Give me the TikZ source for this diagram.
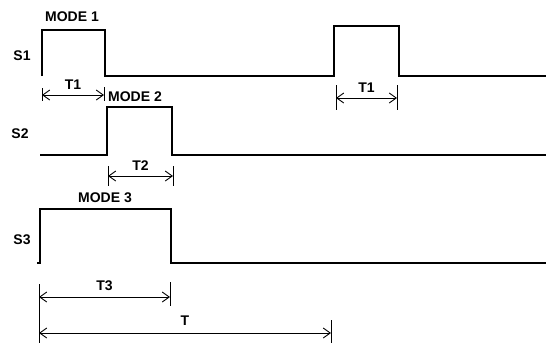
\documentclass[tikz,border=0pt]{standalone}
\usepackage{fontspec}
\setmainfont{Liberation Sans}
\usetikzlibrary{arrows.meta}
\begin{document}
\begin{tikzpicture}[x=1pt,y=-1pt,
  wave/.style={line width=1.3pt},
  tick/.style={line width=0.9pt},
  dim/.style={line width=0.9pt,{Straight Barb[length=7pt,width=10pt]}-{Straight Barb[length=7pt,width=10pt]}},
  lbl/.style={font=\fontsize{14}{16}\selectfont\bfseries,inner sep=0pt}]
\useasboundingbox[fill=white] (0,0) rectangle (546,346);
% labels
\node[lbl] (s1) at (22,56) {S1};
\node[lbl] (s2) at (20,134) {S2};
\node[lbl] (s3) at (22,240) {S3};
\node[lbl] (m1) at (72,17) {MODE 1};
\node[lbl] (m2) at (135,97) {MODE 2};
\node[lbl] (m3) at (105,198) {MODE 3};
% waveforms
\draw[wave] (42,76) -- (42,30) -- (105,30) -- (105,76) -- (334,76) -- (334,26) -- (399,26) -- (399,76) -- (546,76);
\draw[wave] (40,155) -- (107,155) -- (107,107) -- (172,107) -- (172,155) -- (546,155);
\draw[wave] (37,263) -- (40,263) -- (40,209) -- (171,209) -- (171,263) -- (546,263);
% T1 (first)
\coordinate (a1) at (42,95); \coordinate (b1) at (104,95);
\draw[tick] (42,88) -- (42,101);
\draw[tick] (104,87) -- (104,101);
\draw[dim] (a1) -- node[lbl,above=5pt] (t1) {T1} (b1);
% T1 (second)
\coordinate (a2) at (336,98); \coordinate (b2) at (397,98);
\draw[tick] (336,85) -- (336,110);
\draw[tick] (397,85) -- (397,110);
\draw[dim] (a2) -- node[lbl,above=5pt] (t1b) {T1} (b2);
% T2
\coordinate (a3) at (108,176); \coordinate (b3) at (173,176);
\draw[tick] (108,166) -- (108,186);
\draw[tick] (173,166) -- (173,186);
\draw[dim] (a3) -- node[lbl,above=5pt] (t2) {T2} (b3);
% T3
\coordinate (a4) at (39,297); \coordinate (b4) at (170,297);
\draw[tick] (39,284) -- (39,343);
\draw[tick] (170,282) -- (170,306);
\draw[dim] (a4) -- node[lbl,above=6pt] (t3) {T3} (b4);
% T
\coordinate (a5) at (39,333); \coordinate (b5) at (331,333);
\draw[tick] (331,320) -- (331,343);
\draw[dim] (a5) -- node[lbl,above=7pt] (t) {T} (b5);
\end{tikzpicture}
\end{document}
